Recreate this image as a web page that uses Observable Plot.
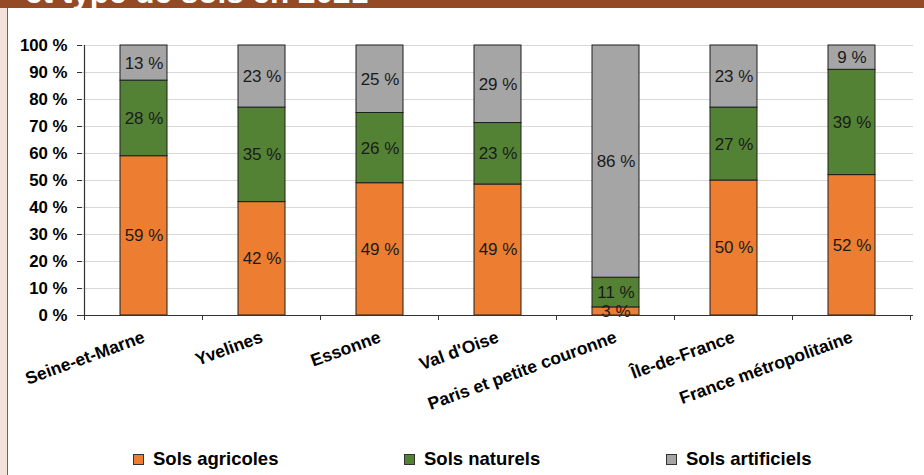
<!DOCTYPE html>
<html>
<head>
<meta charset="utf-8">
<script src="https://cdn.jsdelivr.net/npm/d3@7"></script>
<script src="https://cdn.jsdelivr.net/npm/@observablehq/plot@0.6"></script>
<style>
  html, body { margin: 0; padding: 0; background: #fff; }
  body { width: 924px; height: 475px; position: relative; overflow: hidden; font-family: "Liberation Sans", Arial, sans-serif; }
  #strip { position: absolute; left: 0; top: 0; width: 7px; height: 475px; background: #f2e2d9; border-right: 1px solid #a0522d; }
  #banner { position: absolute; left: 0; top: 0; width: 924px; height: 8px; background: #944a24; overflow: hidden; }
  #banner span { position: absolute; left: 25px; top: -23px; color: #fff; font-family: "Liberation Sans", Arial, sans-serif; font-weight: bold; font-size: 31.5px; line-height: 30px; white-space: nowrap; }
  #chart { position: absolute; left: 0; top: 0; }
  #legend { position: absolute; top: 448px; left: 0; width: 924px; height: 24px; }
  .item { position: absolute; top: 0; display: flex; align-items: center; font-weight: bold; font-size: 18.5px; color: #000; }
  .sw { width: 9px; height: 9px; border: 1px solid #333; margin-right: 9px; }
</style>
</head>
<body>
<div id="strip"></div>
<div id="banner"><span>et type de sols en 2021</span></div>
<div id="chart"></div>
<div id="legend"></div>
<script>
const categories = ["Seine-et-Marne", "Yvelines", "Essonne", "Val d'Oise", "Paris et petite couronne", "Île-de-France", "France métropolitaine"];
const types = ["Sols agricoles", "Sols naturels", "Sols artificiels"];
const agricoles = [59, 42, 49, 49, 3, 50, 52];
const naturels = [28, 35, 26, 23, 11, 27, 39];
const artificiels = [13, 23, 25, 29, 86, 23, 9];
const colors = ["#ed7d31", "#548235", "#a5a5a5"];
const yTicks = [0, 0.1, 0.2, 0.3, 0.4, 0.5, 0.6, 0.7, 0.8, 0.9, 1];

const series = [agricoles, naturels, artificiels];
const data = [];
categories.forEach((c, i) => {
  types.forEach((t, j) => data.push({cat: c, type: t, value: series[j][i]}));
});

const plot = Plot.plot({
  width: 924,
  height: 430,
  marginLeft: 82,
  marginRight: 11,
  marginTop: 45,
  marginBottom: 115,
  style: {fontFamily: "'Liberation Sans', Arial, sans-serif", background: "transparent", overflow: "visible"},
  x: {domain: categories, paddingInner: 0.6, paddingOuter: 0.3, label: null},
  y: {domain: [0, 1], label: null},
  color: {domain: types, range: colors},
  marks: [
    Plot.gridY(yTicks, {stroke: "#d9d9d9", strokeOpacity: 1}),
    Plot.barY(data, Plot.stackY({offset: "normalize", order: types, x: "cat", y: "value", z: "type", fill: "type", stroke: "#1f1f1f", strokeWidth: 1})),
    Plot.text(data, Plot.stackY({offset: "normalize", order: types, x: "cat", y: "value", z: "type", text: d => d.value + " %", fill: "#1a1a1a", fontSize: 17})),
    Plot.ruleY([0], {stroke: "#333", strokeWidth: 1.2}),
    Plot.axisY(yTicks, {tickFormat: d => Math.round(d * 100) + " %", tickSize: 5, tickPadding: 10, fontSize: 16.8, fontWeight: "bold", stroke: "#333", fill: "#000", label: null}),
    Plot.axisX({tickRotate: -20, tickSize: 0, tickPadding: 21, fontSize: 17.5, fontWeight: "bold", fill: "#000", label: null})
  ]
});
document.getElementById("chart").appendChild(plot);

// Axis line and category boundary ticks, positioned through Plot's scales
const xs = plot.scale("x");
const ys = plot.scale("y");
const svg = d3.select(plot);
const y0 = ys.apply(0), y1 = ys.apply(1);
const bounds = categories.map(c => xs.apply(c) + xs.bandwidth / 2 - xs.step / 2);
bounds.push(xs.apply(categories[categories.length - 1]) + xs.bandwidth / 2 + xs.step / 2);
svg.append("line").attr("x1", bounds[0]).attr("x2", bounds[0]).attr("y1", y1).attr("y2", y0).attr("stroke", "#333").attr("stroke-width", 1.2);
svg.append("g").selectAll("line").data(bounds).join("line")
  .attr("x1", d => d).attr("x2", d => d).attr("y1", y0).attr("y2", y0 + 5).attr("stroke", "#333");

// Legend
const legendX = [133, 404, 666];
const legend = document.getElementById("legend");
types.forEach((t, i) => {
  const el = document.createElement("div");
  el.className = "item";
  el.style.left = legendX[i] + "px";
  el.innerHTML = `<div class="sw" style="background:${colors[i]}"></div><span>${t}</span>`;
  legend.appendChild(el);
});
</script>
</body>
</html>
